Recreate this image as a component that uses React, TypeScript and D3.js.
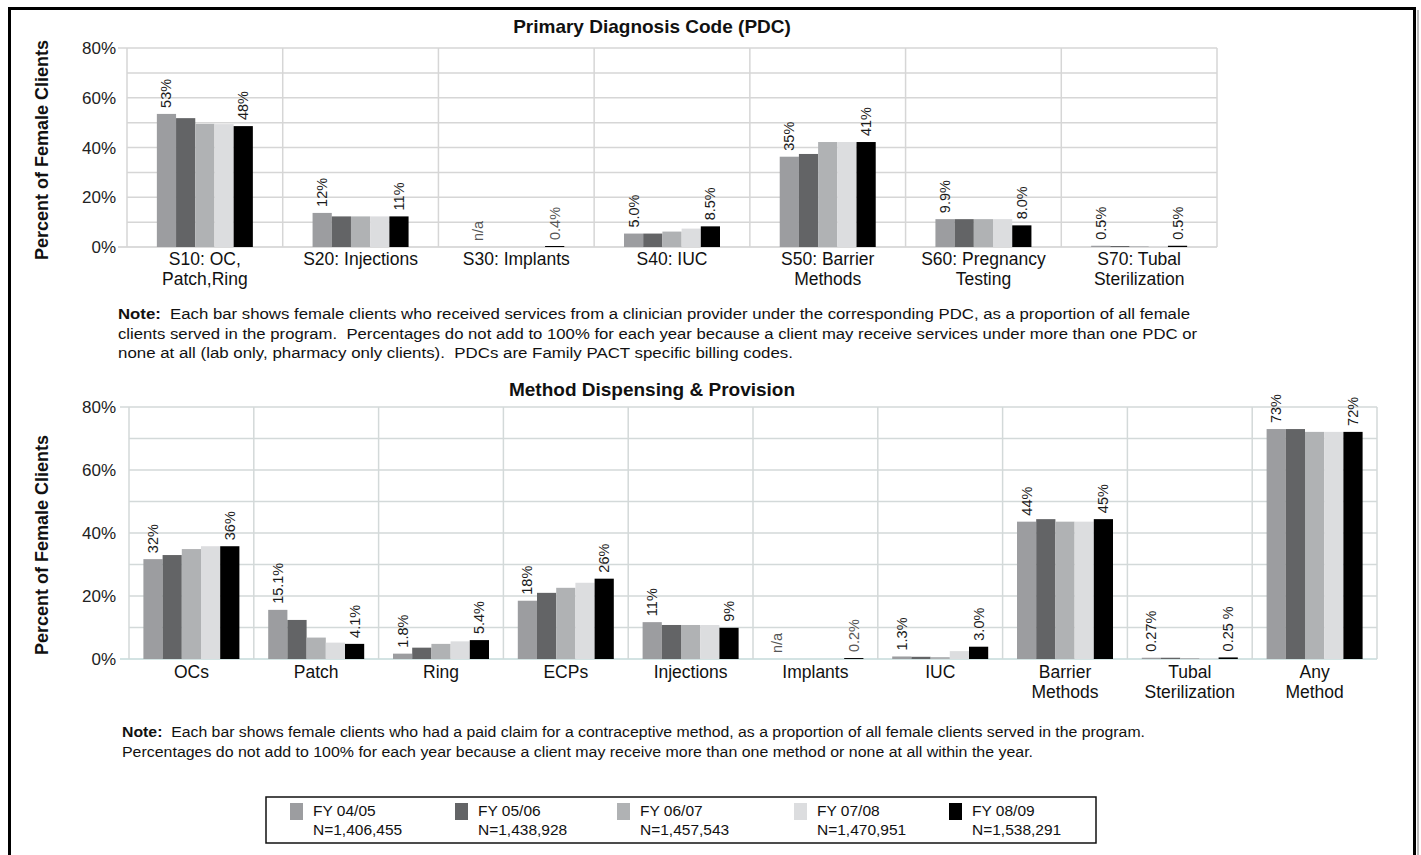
import React from "react";
import * as d3 from "d3";

// ---------- DATA ----------
const years = ["FY 04/05", "FY 05/06", "FY 06/07", "FY 07/08", "FY 08/09"];
const yearN = ["N=1,406,455", "N=1,438,928", "N=1,457,543", "N=1,470,951", "N=1,538,291"];
const yearColors = ["#9c9da0", "#636466", "#b0b2b4", "#dcdddf", "#000000"];

const pdcCategories = [
  "S10: OC,|Patch,Ring",
  "S20: Injections",
  "S30: Implants",
  "S40: IUC",
  "S50: Barrier|Methods",
  "S60: Pregnancy|Testing",
  "S70: Tubal|Sterilization",
];
const pdcFY0405 = [53.5, 13.7, null, 5.4, 36.3, 11.2, 0.5];
const pdcFY0506 = [51.8, 12.3, 0, 5.4, 37.4, 11.2, 0.4];
const pdcFY0607 = [49.5, 12.3, 0, 6.2, 42.2, 11.2, 0.3];
const pdcFY0708 = [49.4, 12.3, 0, 7.4, 42.2, 11.2, 0.2];
const pdcFY0809 = [48.6, 12.3, 0.4, 8.3, 42.2, 8.7, 0.5];
const pdcFirstLabels = ["53%", "12%", "n/a", "5.0%", "35%", "9.9%", "0.5%"];
const pdcLastLabels = ["48%", "11%", "0.4%", "8.5%", "41%", "8.0%", "0.5%"];

const mdpCategories = [
  "OCs",
  "Patch",
  "Ring",
  "ECPs",
  "Injections",
  "Implants",
  "IUC",
  "Barrier|Methods",
  "Tubal|Sterilization",
  "Any|Method",
];
const mdpFY0405 = [31.7, 15.6, 1.7, 18.5, 11.7, null, 0.8, 43.6, 0.4, 73.0];
const mdpFY0506 = [33.0, 12.4, 3.6, 21.0, 10.8, 0, 0.7, 44.4, 0.4, 73.0];
const mdpFY0607 = [34.9, 6.8, 4.8, 22.6, 10.8, 0, 0.6, 43.6, 0.3, 72.1];
const mdpFY0708 = [35.8, 5.2, 5.6, 24.2, 10.8, 0, 2.5, 43.6, 0.2, 72.1];
const mdpFY0809 = [35.8, 4.8, 6.0, 25.5, 9.9, 0.3, 3.9, 44.4, 0.5, 72.1];
const mdpFirstLabels = ["32%", "15.1%", "1.8%", "18%", "11%", "n/a", "1.3%", "44%", "0.27%", "73%"];
const mdpLastLabels = ["36%", "4.1%", "5.4%", "26%", "9%", "0.2%", "3.0%", "45%", "0.25 %", "72%"];

const yTicks = [0, 20, 40, 60, 80];
const yGrid = [0, 10, 20, 30, 40, 50, 60, 70, 80];

const pdcTitle = "Primary Diagnosis Code (PDC)";
const mdpTitle = "Method Dispensing & Provision";
const yTitle = "Percent of Female Clients";

const note1 = [
  "Each bar shows female clients who received services from a clinician provider under the corresponding PDC, as a proportion of all female",
  "clients served in the program.  Percentages do not add to 100% for each year because a client may receive services under more than one PDC or",
  "none at all (lab only, pharmacy only clients).  PDCs are Family PACT specific billing codes.",
];
const note2 = [
  "Each bar shows female clients who had a paid claim for a contraceptive method, as a proportion of all female clients served in the program.",
  "Percentages do not add to 100% for each year because a client may receive more than one method or none at all within the year.",
];

const FONT = "'Liberation Sans', Arial, Helvetica, sans-serif";

type PanelProps = {
  categories: string[];
  series: (number | null)[][];
  firstLabels: string[];
  lastLabels: string[];
  x0: number;
  x1: number;
  yTop: number;
  yZero: number;
  title: string;
  titleY: number;
  titleX: number;
  yTitleY: number;
  catY: number;
  gridColor: string;
  axisColor: string;
};

function Panel(p: PanelProps) {
  const x = d3.scaleBand<string>().domain(p.categories).range([p.x0, p.x1]).paddingInner(0).paddingOuter(0);
  const inner = d3.scaleBand<string>().domain(years).range([-48, 48]).paddingInner(0);
  const y = d3.scaleLinear().domain([0, 80]).range([p.yZero, p.yTop]);
  const bw = inner.bandwidth();
  const edges = p.categories.map((c) => x(c) as number).concat([p.x1]);
  return (
    <g>
      {yGrid.map((v) => (
        <line
          key={"h" + v}
          x1={v === 0 || v === 80 ? p.x0 - 9 : p.x0}
          x2={p.x1}
          y1={y(v)}
          y2={y(v)}
          stroke={v === 0 ? p.axisColor : p.gridColor}
          strokeWidth={1.5}
        />
      ))}
      {edges.map((e, i) => (
        <line key={"v" + i} x1={e} x2={e} y1={p.yTop} y2={p.yZero} stroke={p.gridColor} strokeWidth={1.5} />
      ))}
      {yTicks.map((v) => (
        <text key={"t" + v} x={116} y={y(v)} dy="0.36em" textAnchor="end" fontSize={17} fontFamily={FONT} fill="#222">
          {v + "%"}
        </text>
      ))}
      <text
        transform={`translate(42,${p.yTitleY}) rotate(-90)`}
        textAnchor="middle"
        dominantBaseline="central"
        fontSize={18}
        fontWeight="bold"
        fontFamily={FONT}
        fill="#111"
      >
        {yTitle}
      </text>
      <text x={p.titleX} y={p.titleY} textAnchor="middle" fontSize={19} fontWeight="bold" fontFamily={FONT} fill="#111">
        {p.title}
      </text>
      {p.categories.map((c, ci) => {
        const cx = (x(c) as number) + x.bandwidth() / 2;
        return (
          <g key={"c" + ci}>
            {years.map((yr, si) => {
              const v = p.series[si][ci];
              if (v == null || v <= 0) return null;
              return (
                <rect
                  key={yr}
                  x={cx + (inner(yr) as number)}
                  y={y(v)}
                  width={bw}
                  height={p.yZero - y(v)}
                  fill={yearColors[si]}
                />
              );
            })}
            {[0, 4].map((si) => {
              const v = p.series[si][ci];
              const lab = si === 0 ? p.firstLabels[ci] : p.lastLabels[ci];
              const bx = cx + (inner(years[si]) as number) + bw / 2;
              const top = y(v == null ? 0 : v) - 6;
              return (
                <text
                  key={"l" + si}
                  transform={`translate(${bx},${top}) rotate(-90)`}
                  textAnchor="start"
                  dominantBaseline="central"
                  fontSize={14.5}
                  fontFamily={FONT}
                  style={{ whiteSpace: "pre" }}
                  fill={lab === "n/a" || lab === "0.4%" || lab === "0.2%" ? "#555" : "#1a1a1a"}
                >
                  {lab}
                </text>
              );
            })}
            {c.split("|").map((line, li) => (
              <text
                key={"cl" + li}
                x={cx}
                y={p.catY + li * 20}
                textAnchor="middle"
                fontSize={17.5}
                fontFamily={FONT}
                fill="#111"
              >
                {line}
              </text>
            ))}
          </g>
        );
      })}
    </g>
  );
}

function Note({ lines, x, y, widths }: { lines: string[]; x: number; y: number; widths: number[] }) {
  return (
    <g>
      {lines.map((ln, i) => (
        <text
          key={i}
          x={x}
          y={y + i * 19.5}
          fontSize={14}
          fontFamily={FONT}
          fill="#111"
          textLength={widths[i]}
          lengthAdjust="spacingAndGlyphs"
          style={{ whiteSpace: "pre" }}
        >
          {i === 0 ? (
            <>
              <tspan fontWeight="bold">Note:</tspan>
              <tspan>{"  " + ln}</tspan>
            </>
          ) : (
            ln
          )}
        </text>
      ))}
    </g>
  );
}

export default function App() {
  const pdcSeries = [pdcFY0405, pdcFY0506, pdcFY0607, pdcFY0708, pdcFY0809];
  const mdpSeries = [mdpFY0405, mdpFY0506, mdpFY0607, mdpFY0708, mdpFY0809];
  const legendSwatchX = [290, 455, 617, 794, 949];
  return (
    <svg
      width={1421}
      height={855}
      style={{ position: "absolute", left: 0, top: 0, background: "#fff" }}
      xmlns="http://www.w3.org/2000/svg"
    >
      <rect x={0} y={0} width={1421} height={855} fill="#fff" />
      <rect x={9.5} y={8.5} width={1405} height={900} fill="none" stroke="#000" strokeWidth={3} />
      <line x1={1418} x2={1418} y1={10} y2={855} stroke="#bbb" strokeWidth={2} />

      <Panel
        categories={pdcCategories}
        series={pdcSeries}
        firstLabels={pdcFirstLabels}
        lastLabels={pdcLastLabels}
        x0={127}
        x1={1217}
        yTop={48}
        yZero={247}
        title={pdcTitle}
        titleX={652}
        titleY={33}
        yTitleY={150}
        catY={265}
        gridColor="#d6d6d6"
        axisColor="#cfcfcf"
      />
      <Note lines={note1} x={118} y={319} widths={[1072, 1079, 675]} />

      <Panel
        categories={mdpCategories}
        series={mdpSeries}
        firstLabels={mdpFirstLabels}
        lastLabels={mdpLastLabels}
        x0={129}
        x1={1377}
        yTop={407}
        yZero={659}
        title={mdpTitle}
        titleX={652}
        titleY={396}
        yTitleY={545}
        catY={678}
        gridColor="#d3d9d9"
        axisColor="#c5dada"
      />
      <Note lines={note2} x={122} y={737} widths={[1023, 911]} />

      <rect x={266} y={797} width={830} height={46} fill="#fff" stroke="#111" strokeWidth={1.5} />
      {years.map((yr, i) => (
        <g key={yr}>
          <rect x={legendSwatchX[i]} y={803} width={13} height={17} fill={yearColors[i]} />
          <text x={legendSwatchX[i] + 23} y={816} fontSize={15.5} fontFamily={FONT} fill="#111">
            {yr}
          </text>
          <text x={legendSwatchX[i] + 23} y={835} fontSize={15.5} fontFamily={FONT} fill="#111">
            {yearN[i]}
          </text>
        </g>
      ))}
    </svg>
  );
}
